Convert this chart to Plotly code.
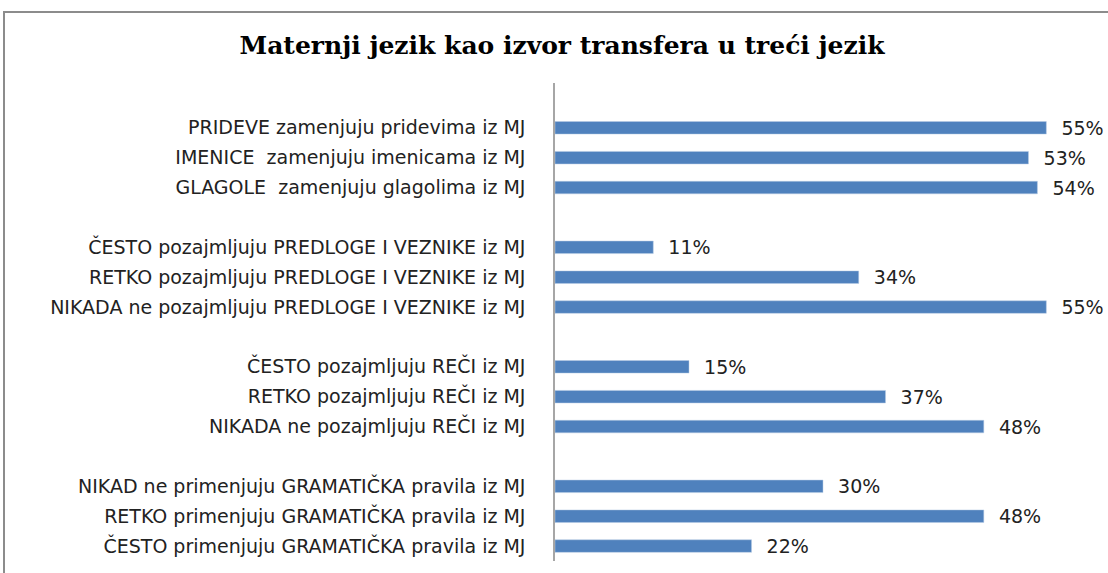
import plotly.graph_objects as go

title = "Maternji jezik kao izvor transfera u treći jezik"

# bottom-to-top order; blank strings are gap rows
categories = [
    "ČESTO primenjuju GRAMATIČKA pravila iz MJ",
    "RETKO primenjuju GRAMATIČKA pravila iz MJ",
    "NIKAD ne primenjuju GRAMATIČKA pravila iz MJ",
    " ",
    "NIKADA ne pozajmljuju REČI iz MJ",
    "RETKO pozajmljuju REČI iz MJ",
    "ČESTO pozajmljuju REČI iz MJ",
    "  ",
    "NIKADA ne pozajmljuju PREDLOGE I VEZNIKE iz MJ",
    "RETKO pozajmljuju PREDLOGE I VEZNIKE iz MJ",
    "ČESTO pozajmljuju PREDLOGE I VEZNIKE iz MJ",
    "   ",
    "GLAGOLE  zamenjuju glagolima iz MJ",
    "IMENICE  zamenjuju imenicama iz MJ",
    "PRIDEVE zamenjuju pridevima iz MJ",
    "    ",
]
values = [22, 48, 30, None, 48, 37, 15, None, 55, 34, 11, None, 54, 53, 55, None]

labels = ["" if v is None else f"  {v}%" for v in values]

fig = go.Figure(
    go.Bar(
        x=values,
        y=categories,
        orientation="h",
        marker=dict(color="#4F81BD", line=dict(color="#B9CDE5", width=0.5)),
        width=0.42,
        text=labels,
        textposition="outside",
        constraintext="none",
        textfont=dict(family="DejaVu Sans", size=19, color="#222222"),
        cliponaxis=False,
        hoverinfo="skip",
    )
)

fig.update_layout(
    width=1108,
    height=573,
    margin=dict(l=555, r=17, t=83, b=12),
    paper_bgcolor="white",
    plot_bgcolor="white",
    showlegend=False,
    title=dict(
        text="<b>" + title + "</b>",
        x=562 / 1108,
        xref="container",
        xanchor="center",
        y=1 - 45 / 573,
        yref="container",
        yanchor="middle",
        font=dict(family="DejaVu Serif", size=25, color="black"),
    ),
    xaxis=dict(range=[0, 60], visible=False, showgrid=False, fixedrange=True),
    yaxis=dict(
        type="category",
        categoryorder="array",
        categoryarray=categories,
        showline=True,
        linecolor="#A6A6A6",
        linewidth=1.5,
        ticks="",
        showgrid=False,
        ticklabelstandoff=24,
        tickfont=dict(family="DejaVu Sans", size=19, color="#222222"),
    ),
    shapes=[
        dict(
            type="rect",
            xref="paper",
            yref="paper",
            x0=(4 - 555) / 536,
            x1=1.2,
            y0=-0.2,
            y1=1 + 71 / 478,
            line=dict(color="#8C8C8C", width=2),
            fillcolor="rgba(0,0,0,0)",
        )
    ],
)

fig.write_html(
    "out.html",
    config={"displayModeBar": False},
    post_script="document.body.style.margin='0';document.body.style.overflow='hidden';",
)
